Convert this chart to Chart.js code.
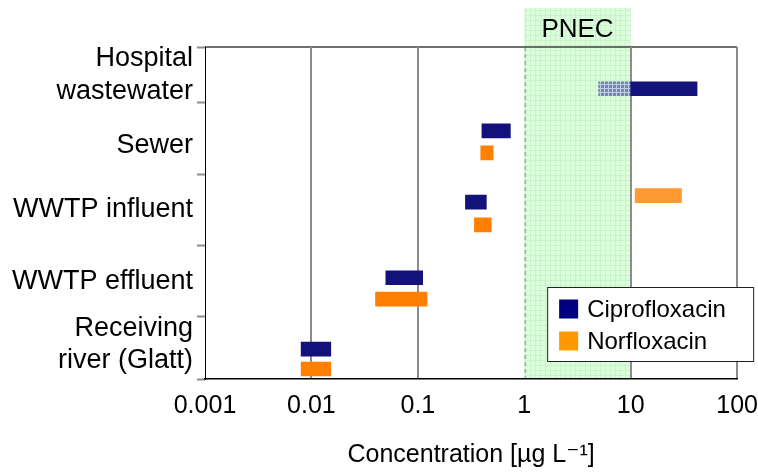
<!DOCTYPE html>
<html><head><meta charset="utf-8">
<script src="https://cdn.jsdelivr.net/npm/chart.js@4.4.1/dist/chart.umd.min.js"></script>
<style>html,body{margin:0;padding:0;background:#fff}#wrap{width:758px;height:476px}</style>
</head><body><div id="wrap"><canvas id="c" width="758" height="476"></canvas></div>
<script>
// ---- data ----
const categories = [['Hospital','wastewater'], ['Sewer'], ['WWTP influent'], ['WWTP effluent'], ['Receiving','river (Glatt)']];
const seriesNames = ['Ciprofloxacin', 'Norfloxacin'];
const ciproLow  = [10, 0.40, 0.28, 0.050, 0.0080];
const ciproHigh = [42, 0.74, 0.44, 0.111, 0.0152];
const ciproRow  = [0.30, 0.89, 1.89, 2.95, 3.95];
const ciproHospitalLower = [5, 10];
const norfloLow  = [11, 0.39, 0.34, 0.040, 0.0080];
const norfloHigh = [30, 0.51, 0.49, 0.122, 0.0152];
const norfloRow  = [1.80, 1.20, 2.21, 3.25, 4.23];
const pnecRange = [1, 10];
const xTickValues = [0.001, 0.01, 0.1, 1, 10, 100];
const xTickLabels = ['0.001', '0.01', '0.1', '1', '10', '100'];
const rowLabelPos = [0.107, 1.10, 2.0, 3.01, 3.89];
const rowBounds = [-0.285, 0.5, 1.5, 2.5, 3.5, 4.37];

// ---- styling ----
const FONT = "'Liberation Sans', Arial, 'DejaVu Sans', sans-serif";
Chart.defaults.font.family = FONT;
Chart.defaults.color = '#000';
const canvas = document.getElementById('c');
const mainCtx = canvas.getContext('2d');
function makePattern(bg, line, step) {
  const c = document.createElement('canvas'); c.width = step; c.height = step;
  const g = c.getContext('2d');
  g.fillStyle = bg; g.fillRect(0, 0, step, step);
  g.fillStyle = line; g.fillRect(0, 0, step, 1); g.fillRect(0, 0, 1, step);
  return mainCtx.createPattern(c, 'repeat');
}
const hatchPattern = makePattern('#6f89b3', '#c0cde2', 4);
const bandPattern = makePattern('#dcfddc', '#c9f3c9', 5);
const NAVY = '#12127a', ORANGE = '#ff8000', ORANGE_LIGHT = '#ff9a33';

const pnecPlugin = {
  id: 'pnec',
  beforeDraw(chart) {
    const {ctx, chartArea: a, scales: {x}} = chart;
    const x1 = x.getPixelForValue(pnecRange[0]), x2 = x.getPixelForValue(pnecRange[1]);
    const top = a.top - 39;
    ctx.save();
    ctx.fillStyle = bandPattern;
    ctx.fillRect(x1, top, x2 - x1, a.bottom - top);
    ctx.strokeStyle = '#a6bca6'; ctx.lineWidth = 2; ctx.setLineDash([4, 3]);
    ctx.beginPath(); ctx.moveTo(x1 + 1, a.top); ctx.lineTo(x1 + 1, a.bottom); ctx.stroke();
    ctx.setLineDash([]);
    ctx.fillStyle = '#000'; ctx.font = '26px ' + FONT; ctx.textAlign = 'center'; ctx.textBaseline = 'middle';
    ctx.fillText('PNEC', (x1 + x2) / 2, a.top - 17);
    ctx.strokeStyle = '#404040'; ctx.lineWidth = 1.5;
    ctx.beginPath(); ctx.moveTo(a.left, a.top); ctx.lineTo(a.right, a.top); ctx.stroke();
    ctx.restore();
  }
};

const boxLegendPlugin = {
  id: 'boxLegend',
  afterDraw(chart) {
    const {ctx, chartArea: a} = chart;
    const w = 206, h = 74;
    const bx = a.right + 16 - w, by = a.bottom - 92;
    ctx.save();
    ctx.fillStyle = '#fff'; ctx.fillRect(bx, by, w, h);
    ctx.strokeStyle = '#222'; ctx.lineWidth = 1; ctx.strokeRect(bx + 0.5, by + 0.5, w, h);
    const items = chart.data.datasets.filter(d => d.legendColor);
    ctx.font = '24px ' + FONT; ctx.textAlign = 'left'; ctx.textBaseline = 'middle';
    items.forEach((d, i) => {
      const cy = by + 22 + i * 32;
      ctx.fillStyle = d.legendColor; ctx.fillRect(bx + 12, cy - 9.5, 19, 19);
      ctx.fillStyle = '#000'; ctx.fillText(d.label, bx + 40, cy + 1);
    });
    ctx.restore();
  }
};

const ciproData = ciproRow.map((r, i) => ({y: r, x: [ciproLow[i], ciproHigh[i]]}));
const ciproLowerData = [{y: ciproRow[0], x: ciproHospitalLower}];
const norfloData = norfloRow.map((r, i) => ({y: r, x: [norfloLow[i], norfloHigh[i]]}));

new Chart(canvas, {
  type: 'bar',
  data: {
    datasets: [
      {label: seriesNames[0], data: ciproData, backgroundColor: NAVY, legendColor: '#000080', stack: 'all', barThickness: 14, borderWidth: 0},
      {label: seriesNames[0] + ' (range)', data: ciproLowerData, backgroundColor: hatchPattern, stack: 'all', barThickness: 14, borderWidth: 0},
      {label: seriesNames[1], data: norfloData, backgroundColor: norfloRow.map((r, i) => i === 0 ? ORANGE_LIGHT : ORANGE), legendColor: '#ff9900', stack: 'all', barThickness: 14, borderWidth: 0}
    ]
  },
  options: {
    indexAxis: 'y', responsive: false, animation: false,
    layout: {padding: {top: 47, right: 20, left: 0, bottom: 0}},
    plugins: {legend: {display: false}, tooltip: {enabled: false}},
    scales: {
      x: {
        type: 'logarithmic', min: xTickValues[0], max: xTickValues[xTickValues.length - 1], stacked: false,
        afterBuildTicks: s => { s.ticks = xTickValues.map(v => ({value: v, major: true})); },
        ticks: {
          autoSkip: false, maxRotation: 0, padding: 0, font: {size: 25}, color: '#000',
          callback: v => { const i = xTickValues.findIndex(t => Math.abs(Math.log10(t) - Math.log10(v)) < 1e-6); return i >= 0 ? xTickLabels[i] : ''; }
        },
        grid: {
          drawTicks: true, tickLength: 12, tickColor: 'rgba(0,0,0,0)', lineWidth: 2,
          color: ctx => { const v = ctx.tick ? ctx.tick.value : null; return (v === xTickValues[0] || v === pnecRange[0]) ? 'rgba(0,0,0,0)' : '#8c8c8c'; }
        },
        border: {display: true, color: '#000', width: 1.5},
        title: {display: true, text: 'Concentration [µg L⁻¹]', font: {size: 25}, color: '#000', padding: {top: 4, bottom: 6}},
        afterFit: s => { s.height = 97; }
      },
      y: {
        type: 'linear', reverse: true, offset: false, min: rowBounds[0], max: rowBounds[rowBounds.length - 1],
        afterBuildTicks: s => { s.ticks = [...rowBounds, ...rowLabelPos].sort((a, b) => a - b).map(v => ({value: v})); },
        ticks: {
          autoSkip: false, padding: 4, font: {size: 27}, color: '#000',
          callback: v => { const i = rowLabelPos.indexOf(v); return i >= 0 ? categories[i] : ''; }
        },
        grid: {
          offset: false, drawOnChartArea: false, tickLength: 8, tickWidth: 2,
          tickColor: ctx => (ctx.tick && rowBounds.includes(ctx.tick.value)) ? '#8c8c8c' : 'rgba(0,0,0,0)'
        },
        border: {display: true, color: '#000', width: 1},
        afterFit: s => { s.width = 205; }
      }
    }
  },
  plugins: [pnecPlugin, boxLegendPlugin]
});
</script>
</body></html>
